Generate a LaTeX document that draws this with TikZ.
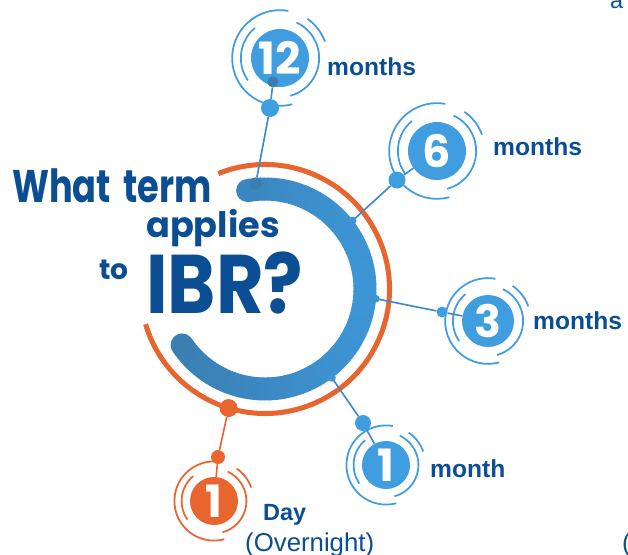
\documentclass[tikz,border=0pt]{standalone}
\usepackage{fontspec}
\setmainfont{Liberation Sans}
\newfontfamily\roundfont{Poppins}
\usetikzlibrary{calc}

\definecolor{navy}{HTML}{0C4E94}
\definecolor{badgeblue}{HTML}{3F9DE0}
\definecolor{linkblue}{HTML}{3B8BCB}
\definecolor{arclight}{HTML}{3D95D5}
\definecolor{arcdark}{HTML}{3A7DB0}
\definecolor{dayorange}{HTML}{E9652F}
\newcommand{\px}{0.03cm}

\begin{document}
\begin{tikzpicture}[x=\px, y=\px,
  badge/.style={circle, inner sep=0pt, text=white, font=\roundfont\bfseries\fontsize{38}{38}\selectfont},
  ring/.style={line width=1.5pt},
  knob/.style={circle, inner sep=0pt},
  link/.style={line width=1.4pt},
  term/.style={anchor=base west, inner sep=0pt, text=navy, font=\bfseries\fontsize{21}{21}\selectfont},
  title/.style={anchor=base west, inner sep=0pt, text=navy},
]
\useasboundingbox (0,0) rectangle (628,-554);

% centre of the two arcs
\coordinate (c) at (265,-289);

% orange outer arc
\draw[dayorange, line width=4.3pt] (c) ++(112:124.5) arc[start angle=112, end angle=-163.6, radius=124.5];

% blue thick arc, darker towards the left
\foreach \a in {-146,-144,...,98} {
  \pgfmathsetmacro\p{50+50*cos(\a+1)}
  \pgfmathsetmacro\e{min(\a+2.6,100)}
  \colorlet{seg}{arclight!\p!arcdark}
  \draw[seg, line width=19.6pt] (c) ++(\a:100) arc[start angle=\a, end angle=\e, radius=100];
}
\fill[arclight!41!arcdark] (c) ++(100:100) circle[radius=11.5];
\fill[arclight!8!arcdark] (c) ++(-146:100) circle[radius=11.5];

% where the links meet the arcs
\coordinate (j12) at ($(c)+(95:106)$);
\coordinate (j6) at ($(c)+(38:111)$);
\coordinate (j3) at ($(c)+(-5:111)$);
\coordinate (j1m) at ($(c)+(-53:111)$);
\coordinate (j1d) at ($(c)+(-107:124.5)$);

% badges
\node[badge, fill=badgeblue, minimum size=58*\px] (b12) at (280,-58) {12};
\node[badge, fill=badgeblue, minimum size=58*\px] (b6) at (437,-151) {6};
\node[badge, fill=badgeblue, minimum size=52*\px] (b3) at (488,-321) {3};
\node[badge, fill=badgeblue, minimum size=48*\px] (b1m) at (386,-465) {1};
\node[badge, fill=dayorange, minimum size=48*\px] (b1d) at (214,-501) {1};

% rings round the badges
\foreach \b/\r/\col in {b12/29/badgeblue, b6/29/badgeblue, b3/26/badgeblue, b1m/24/badgeblue, b1d/24/dayorange} {
  \draw[ring, \col] (\b.center) ++(80:1.65*\r) arc[start angle=80, end angle=285, radius=1.65*\r];
  \draw[ring, \col] (\b.center) ++(20:1.65*\r) arc[start angle=20, end angle=55, radius=1.65*\r];
  \draw[ring, \col] (\b.center) ++(-75:1.35*\r) arc[start angle=-75, end angle=65, radius=1.35*\r];
  \draw[ring, \col] (\b.center) ++(130:1.35*\r) arc[start angle=130, end angle=215, radius=1.35*\r];
}

% knobs on the links
\node[knob, fill=badgeblue, minimum size=18*\px] (k12) at (270,-108) {};
\node[knob, fill=arcdark, minimum size=11*\px] (d12) at (273,-82) {};
\node[knob, fill=arcdark, minimum size=12*\px] (jd12) at (j12) {};
\node[knob, fill=badgeblue, minimum size=17*\px] (k6) at (397,-180) {};
\node[knob, fill=badgeblue, minimum size=11*\px] (k3) at (442,-312) {};
\node[knob, fill=badgeblue, minimum size=16*\px] (k1m) at (363,-423) {};
\node[knob, fill=dayorange, minimum size=18*\px] (jd1d) at (j1d) {};
\node[knob, fill=dayorange, minimum size=14*\px] (k1d) at (218,-457) {};

% links
\draw[link, linkblue] (jd12) -- (k12) -- (d12);
\draw[link, linkblue] (j6) -- (k6) -- (b6);
\draw[link, linkblue] (j3) -- (k3) -- (b3);
\draw[link, linkblue] (j1m) -- (k1m) -- (b1m);
\draw[link, dayorange] (jd1d) -- (k1d) -- (b1d);
\fill[arclight] (j6) circle[radius=4];
\fill[arclight] (j3) circle[radius=4];
\fill[arclight] (j1m) circle[radius=4];

% labels
\node[term] (l12) at (327,-75) {months};
\node[term] (l6) at (493,-155) {months};
\node[term] (l3) at (533,-329) {months};
\node[term] (l1m) at (430,-477) {month};
\node[term, font=\bfseries\fontsize{20}{20}\selectfont] (lday) at (263,-520) {Day};
\node[term, font=\fontsize{22}{22}\selectfont] (lnight) at (245,-551) {(Overnight)};
\node[term, font=\fontsize{20}{20}\selectfont] (cuta) at (610,-8) {a};
\node[term, font=\fontsize{22}{22}\selectfont] (cutb) at (622,-551) {(};

% question
\node[title, xscale=0.77, font=\roundfont\bfseries\fontsize{39}{39}\selectfont] (what) at (12,-202) {What\hspace{0.35em}term};
\node[title, font=\roundfont\bfseries\fontsize{30}{30}\selectfont] (applies) at (146,-237) {applies};
\node[title, font=\roundfont\bfseries\fontsize{24}{24}\selectfont] (to) at (99,-279) {to};
\node[title, xscale=0.88, font=\roundfont\bfseries\fontsize{71}{71}\selectfont] (ibr) at (146,-313) {IBR?};
\end{tikzpicture}
\end{document}
